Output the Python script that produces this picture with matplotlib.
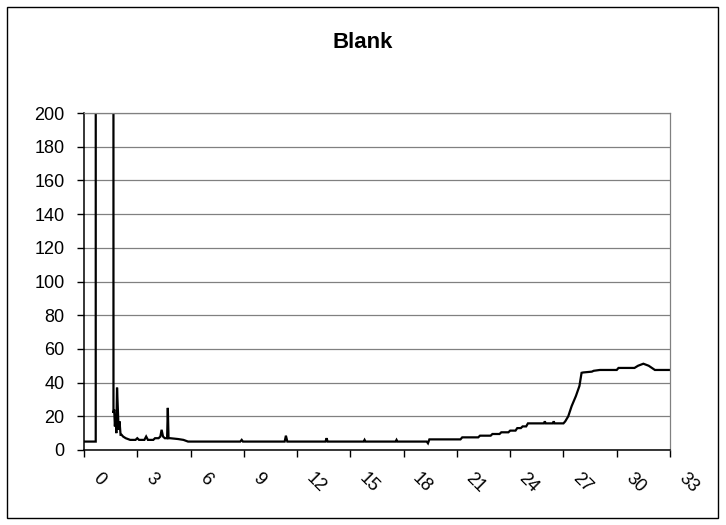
import numpy as np
import matplotlib.pyplot as plt
from matplotlib.patches import Rectangle
from matplotlib.transforms import ScaledTranslation

plt.rcParams["font.family"] = ["Liberation Sans", "DejaVu Sans"]

TITLE = "Blank"

# early part: injection peak (off scale) and noisy settling
t_early = [0, 0.66, 0.68, 1.64, 1.66, 1.70, 1.74, 1.78, 1.82, 1.86,
           1.90, 1.95, 2.00, 2.06, 2.12, 2.20, 2.35, 2.60, 2.90, 3.00,
           3.10, 3.40, 3.50, 3.60, 3.90, 4.00, 4.20, 4.30, 4.37, 4.45,
           4.55, 4.68, 4.72, 4.76, 4.85, 5.30, 5.60, 5.86]
v_early = [5, 5, 2500, 2500, 22, 24, 14, 21, 10, 37,
           26, 12, 17, 9, 9, 8, 7, 6, 6, 7,
           6, 6, 8, 6, 6, 7, 7, 8, 12, 8,
           7, 7, 25, 7, 7, 6.5, 6, 5]

# flat baseline with slow stepwise drift
t_mid = [8.80, 8.88, 8.95, 11.30, 11.37, 11.45, 13.60, 13.66, 13.72, 15.75,
         15.80, 15.85, 17.55, 17.60, 17.65, 19.30, 19.37, 19.45, 19.55, 21.20,
         21.30, 22.20, 22.30, 22.90, 23.00, 23.40, 23.50, 23.90, 24.00, 24.30,
         24.40, 24.60, 24.70, 24.90, 25.00]
v_mid = [5, 6, 5, 5, 8.5, 5, 5, 7, 5, 5,
         6, 5, 5, 6, 5, 5, 4, 6.3, 6.3, 6.3,
         7.5, 7.5, 8.5, 8.5, 9.5, 9.5, 10.5, 10.5, 11.5, 11.5,
         13, 13, 14, 14, 15.8]

# late rise and plateau
t_late = [25.90, 25.95, 26.00, 26.40, 26.45, 26.50, 27.00, 27.10, 27.27, 27.46,
          27.70, 27.90, 28.02, 28.10, 28.60, 28.70, 29.05, 30.00, 30.10, 31.00,
          31.20, 31.50, 31.80, 32.15, 33.00]
v_late = [15.8, 17, 15.8, 15.8, 17, 15.8, 15.8, 17, 20, 26,
          32, 38, 45.8, 46, 46.5, 47, 47.5, 47.5, 48.7, 48.7,
          50, 51.2, 50, 47.5, 47.5]

x_ticks = np.arange(0, 34, 3)
y_ticks = np.arange(0, 201, 20)


def main():
    t = np.concatenate([t_early, t_mid, t_late])
    v = np.concatenate([v_early, v_mid, v_late])

    W, H = 726, 525
    fig = plt.figure(figsize=(W / 100, H / 100), dpi=100)
    ax = fig.add_axes([84 / W, 1 - 450 / H, (670 - 84) / W, (450 - 113) / H])

    ax.plot(t, v, color="black", lw=1.6, solid_joinstyle="miter")
    ax.set_xlim(0, 33)
    ax.set_ylim(0, 200)
    ax.set_xticks(x_ticks)
    ax.set_yticks(y_ticks)
    ax.yaxis.grid(True, color="#808080", lw=0.9)
    ax.set_axisbelow(True)

    for side in ["top", "right"]:
        ax.spines[side].set_color("#808080")
        ax.spines[side].set_linewidth(0.9)
    for side in ["left", "bottom"]:
        ax.spines[side].set_color("black")
        ax.spines[side].set_linewidth(1.1)

    ax.tick_params(axis="y", direction="out", length=5, width=1,
                   pad=9, labelsize=13)
    ax.tick_params(axis="x", direction="out", length=5, width=1,
                   pad=0, labelsize=13)

    shift = ScaledTranslation(11.5 / 100, -19 / 100, fig.dpi_scale_trans)
    for lab in ax.get_xticklabels():
        lab.set_rotation(-45)
        lab.set_rotation_mode("anchor")
        lab.set_ha("left")
        lab.set_va("center")
        lab.set_transform(lab.get_transform() + shift)

    fig.text(0.5, 1 - 48 / H, TITLE, ha="center", va="baseline",
             fontsize=16, fontweight="bold")

    fig.patches.append(Rectangle((7 / W, 7 / H), (718 - 7) / W, (518 - 7) / H,
                                 transform=fig.transFigure, fill=False,
                                 edgecolor="black", lw=1))

    fig.savefig("out.png", dpi=100)


if __name__ == "__main__":
    main()
